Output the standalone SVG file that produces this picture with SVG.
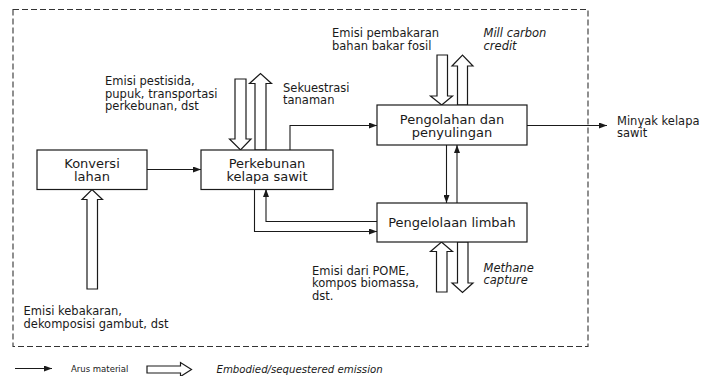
<svg xmlns="http://www.w3.org/2000/svg" width="701" height="376" viewBox="0 0 701 376">
<style>
text{font-family:"DejaVu Sans","Verdana",sans-serif;fill:#1a1a1a}
.box{fill:#fff;stroke:#1a1a1a;stroke-width:1.2}
.bt{font-size:13px;text-anchor:middle}
.lb{font-size:11.5px}
.it{font-style:italic}
.ln{fill:none;stroke:#1a1a1a;stroke-width:1.1}
.blk{fill:#fff;stroke:#1a1a1a;stroke-width:1.2;stroke-linejoin:miter}
</style>
<defs>
<marker id="ah" viewBox="0 0 8 6" refX="8" refY="3" markerWidth="8" markerHeight="6" markerUnits="userSpaceOnUse" orient="auto">
<path d="M0,0 L8,3 L0,6 z" fill="#1a1a1a"/>
</marker>
</defs>
<rect x="13" y="9.5" width="575" height="337" fill="none" stroke="#333" stroke-width="1.1" stroke-dasharray="6,3"/>
<g id="connectors">
<path class="ln" d="M147,169.5 H201" marker-end="url(#ah)"/>
<path class="ln" d="M290,150 V125.5 H377" marker-end="url(#ah)"/>
<path class="ln" d="M527,125.5 H607" marker-end="url(#ah)"/>
<path class="ln" d="M446.5,145 V203" marker-end="url(#ah)"/>
<path class="ln" d="M457,203 V145" marker-end="url(#ah)"/>
<path class="ln" d="M377,221.5 H266 V189" marker-end="url(#ah)"/>
<path class="ln" d="M254.5,189 V231.5 H377" marker-end="url(#ah)"/>
</g>
<g id="block-arrows">
<path class="blk" d="M87,289 V199.5 H82 L92,189.5 L102.5,199.5 H97.5 V289 Z"/>
<path class="blk" d="M235,79 H246 V139 H251 L240.5,150 L229.5,139 H235 Z"/>
<path class="blk" d="M255,150 V83.5 H249.5 L260.5,73.5 L271.5,83.5 H266 V150 Z"/>
<path class="blk" d="M437,55 H447.5 V96 H452.5 L441.7,105 L430.5,96 H437 Z"/>
<path class="blk" d="M457.5,105 V66 H452 L462.5,55 L473,66 H467.5 V105 Z"/>
<path class="blk" d="M436.5,292 V251.5 H430.5 L441.5,242 L452.5,251.5 H447 V292 Z"/>
<path class="blk" d="M457.5,242 H468 V283 H473 L462.5,292.5 L452,283 H457.5 Z"/>
</g>
<g id="konversi">
<rect class="box" x="37" y="150" width="110" height="39.5"/>
<text class="bt" x="92" y="167.5">Konversi</text>
<text class="bt" x="92" y="181">lahan</text>
</g>
<g id="perkebunan">
<rect class="box" x="201" y="150" width="132" height="39.5"/>
<text class="bt" x="267" y="167.5">Perkebunan</text>
<text class="bt" x="267" y="181">kelapa sawit</text>
</g>
<g id="pengolahan">
<rect class="box" x="377" y="105" width="150" height="40"/>
<text class="bt" x="452" y="123.5">Pengolahan dan</text>
<text class="bt" x="452" y="137">penyulingan</text>
</g>
<g id="pengelolaan">
<rect class="box" x="377" y="203" width="150" height="39"/>
<text class="bt" x="452" y="227">Pengelolaan limbah</text>
</g>
<g id="labels">
<text class="lb" x="105" y="85">Emisi pestisida,</text>
<text class="lb" x="105" y="97.5">pupuk, transportasi</text>
<text class="lb" x="105" y="110">perkebunan, dst</text>
<text class="lb" x="283" y="91.5">Sekuestrasi</text>
<text class="lb" x="283" y="104">tanaman</text>
<text class="lb" x="332" y="37">Emisi pembakaran</text>
<text class="lb" x="332" y="49.5">bahan bakar fosil</text>
<text class="lb it" x="483.5" y="37">Mill carbon</text>
<text class="lb it" x="483.5" y="49.5">credit</text>
<text class="lb" x="617" y="124.5">Minyak kelapa</text>
<text class="lb" x="617" y="137">sawit</text>
<text class="lb" x="312" y="274.5">Emisi dari POME,</text>
<text class="lb" x="312" y="287">kompos biomassa,</text>
<text class="lb" x="312" y="299.5">dst.</text>
<text class="lb it" x="483.5" y="271.5">Methane</text>
<text class="lb it" x="483.5" y="284">capture</text>
<text class="lb" x="23.5" y="315">Emisi kebakaran,</text>
<text class="lb" x="23.5" y="327.5">dekomposisi gambut, dst</text>
</g>
<g id="legend">
<path class="ln" d="M15,368.5 H52" marker-end="url(#ah)"/>
<text x="71" y="371.5" style="font-size:8.5px">Arus material</text>
<path class="blk" d="M147,366 H180.5 V362.5 L191.5,369.5 L180.5,376.5 V373 H147 Z"/>
<text class="it" x="216.5" y="372.5" style="font-size:10.2px">Embodied/sequestered emission</text>
</g>
</svg>
